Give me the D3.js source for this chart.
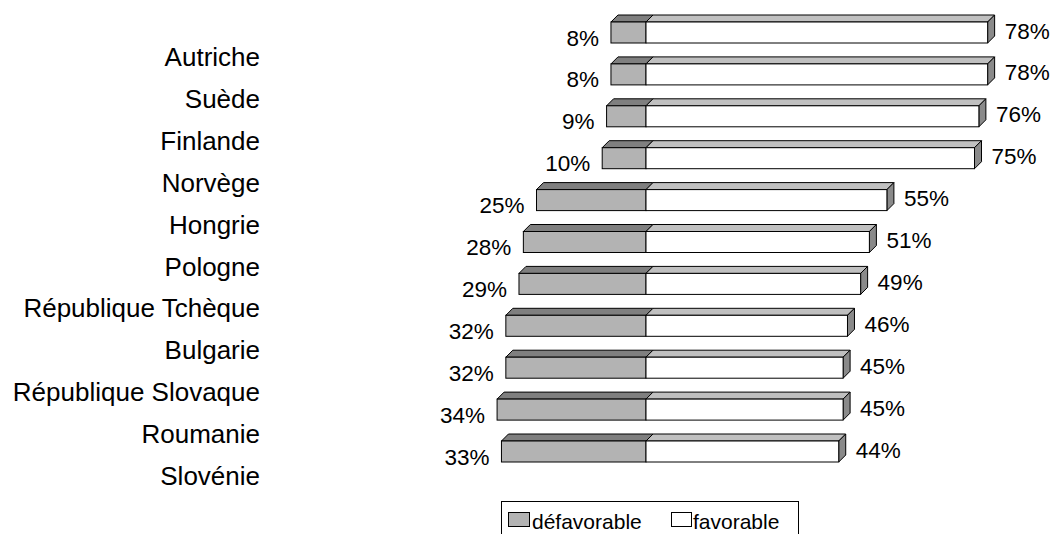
<!DOCTYPE html>
<html>
<head>
<meta charset="utf-8">
<script src="https://cdn.jsdelivr.net/npm/d3@7"></script>
<style>
  body { margin: 0; background: #fff; }
  text { font-family: "Liberation Sans", Arial, sans-serif; fill: #000; }
</style>
</head>
<body>
<svg id="chart" width="1058" height="534"></svg>
<script>
// Données
const pays = ["Autriche", "Suède", "Finlande", "Norvège", "Hongrie", "Pologne",
  "République Tchèque", "Bulgarie", "République Slovaque", "Roumanie", "Slovénie"];
const defavorable = [8, 8, 9, 10, 25, 28, 29, 32, 32, 34, 33];
const favorable = [78, 78, 76, 75, 55, 51, 49, 46, 45, 45, 44];
const legende = ["défavorable", "favorable"];

const svg = d3.select('#chart');

// Echelles
const x = d3.scaleLinear().domain([-100, 100]).range([646 - 438, 646 + 438]);
const y = d3.scaleBand().domain(pays).range([0, 41.9 * pays.length]);

const h = 21;   // hauteur face avant
const d = 7;    // profondeur 3D

const grisAvant = "#b3b3b3", grisHaut = "#7f7f7f";
const blancHaut = "#c0c0c0", blancCote = "#8a8a8a";

// Barres 3D
function barre(g, x0, x1, top, avant, haut, cote) {
  g.append('polygon')
    .attr('points', [[x0, top], [x0 + d, top - d], [x1 + d, top - d], [x1, top]].join(' '))
    .attr('fill', haut).attr('stroke', '#000').attr('stroke-width', 1);
  if (cote) {
    g.append('polygon')
      .attr('points', [[x1, top], [x1 + d, top - d], [x1 + d, top + h - d], [x1, top + h]].join(' '))
      .attr('fill', cote).attr('stroke', '#000').attr('stroke-width', 1);
  }
  g.append('rect')
    .attr('x', x0).attr('y', top)
    .attr('width', x1 - x0).attr('height', h)
    .attr('fill', avant).attr('stroke', '#000').attr('stroke-width', 1);
}

pays.forEach(function (p, i) {
  const top = y(p) + 22;
  const g = svg.append('g');
  // défavorable (à gauche)
  barre(g, x(-defavorable[i]), x(0), top, grisAvant, grisHaut, null);
  // favorable (à droite)
  barre(g, x(0), x(favorable[i]), top, "#fff", blancHaut, blancCote);

  g.append('text')
    .attr('x', x(-defavorable[i]) - 12)
    .attr('y', top + 23.5)
    .attr('text-anchor', 'end')
    .style('font-size', '22.5px')
    .text(defavorable[i] + '%');

  g.append('text')
    .attr('x', x(favorable[i]) + 17)
    .attr('y', top + 16.5)
    .style('font-size', '22.5px')
    .text(favorable[i] + '%');

  // étiquettes des pays (décalées comme dans l'original)
  svg.append('text')
    .attr('x', 260)
    .attr('y', y(p) + 66)
    .attr('text-anchor', 'end')
    .style('font-size', '26px')
    .text(p);
});

// Légende
const leg = svg.append('g');
leg.append('rect')
  .attr('x', 501.5).attr('y', 501.5).attr('width', 297).attr('height', 50)
  .attr('fill', '#fff').attr('stroke', '#000').attr('stroke-width', 1);
leg.append('rect')
  .attr('x', 508.5).attr('y', 512.5).attr('width', 21).attr('height', 14)
  .attr('fill', grisAvant).attr('stroke', '#000');
leg.append('text').attr('x', 532).attr('y', 529).style('font-size', '21px').text(legende[0]);
leg.append('rect')
  .attr('x', 671.5).attr('y', 512.5).attr('width', 20).attr('height', 14)
  .attr('fill', '#fff').attr('stroke', '#000');
leg.append('text').attr('x', 693).attr('y', 529).style('font-size', '21px').text(legende[1]);
</script>
</body>
</html>
